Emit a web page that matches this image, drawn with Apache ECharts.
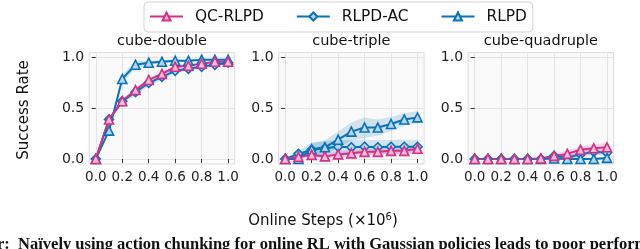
<!DOCTYPE html>
<html>
<head>
<meta charset="utf-8">
<script src="https://cdn.jsdelivr.net/npm/echarts@6/dist/echarts.min.js"></script>
<style>html,body{margin:0;padding:0;background:#fff}#c{width:640px;height:249px}</style>
</head>
<body>
<div id="c"></div>
<script>
const steps = [0, 0.1, 0.2, 0.3, 0.4, 0.5, 0.6, 0.7, 0.8, 0.9, 1.0];
const xTicks = [0, 0.2, 0.4, 0.6, 0.8, 1.0];
const yTicks = [0, 0.5, 1.0];
const panelTitles = ['cube-double', 'cube-triple', 'cube-quadruple'];
const methods = ['QC-RLPD', 'RLPD-AC', 'RLPD'];

// cube-double
const qcDouble   = [0, 0.39, 0.57, 0.68, 0.78, 0.84, 0.91, 0.92, 0.94, 0.96, 0.96];
const acDouble   = [0, 0.39, 0.57, 0.66, 0.75, 0.81, 0.87, 0.89, 0.91, 0.93, 0.95];
const rlpdDouble = [0, 0.28, 0.79, 0.93, 0.95, 0.96, 0.97, 0.97, 0.98, 0.98, 0.98];
const qcDoubleErr   = [0, 0.02, 0.02, 0.02, 0.02, 0.02, 0.02, 0.02, 0.01, 0.01, 0.01];
const acDoubleErr   = [0, 0.02, 0.03, 0.03, 0.03, 0.03, 0.02, 0.02, 0.02, 0.02, 0.02];
const rlpdDoubleErr = [0, 0.03, 0.04, 0.04, 0.02, 0.02, 0.01, 0.01, 0.01, 0.01, 0.01];

// cube-triple
const qcTriple   = [0, 0.02, 0.04, 0.025, 0.045, 0.055, 0.07, 0.07, 0.08, 0.08, 0.10];
const acTriple   = [0, 0.05, 0.09, 0.105, 0.12, 0.115, 0.12, 0.115, 0.12, 0.12, 0.12];
const rlpdTriple = [0, 0.0, 0.095, 0.115, 0.19, 0.27, 0.31, 0.31, 0.345, 0.39, 0.41];
const qcTripleErr   = [0, 0.01, 0.02, 0.02, 0.03, 0.03, 0.03, 0.03, 0.03, 0.03, 0.03];
const acTripleErr   = [0, 0.03, 0.07, 0.07, 0.07, 0.07, 0.07, 0.07, 0.07, 0.07, 0.07];
const rlpdTripleErr = [0, 0.01, 0.06, 0.07, 0.08, 0.09, 0.1, 0.08, 0.07, 0.06, 0.06];

// cube-quadruple
const qcQuad   = [0, 0, 0, 0, 0, 0.005, 0.03, 0.05, 0.09, 0.105, 0.115];
const acQuad   = [0, 0, 0, 0, 0, 0, 0.03, 0.015, 0.045, 0.07, 0.06];
const rlpdQuad = [0, 0, 0, 0, 0, 0, 0.005, 0.0, 0.0, 0.0, 0.01];
const qcQuadErr   = [0, 0, 0, 0, 0, 0.01, 0.02, 0.03, 0.035, 0.04, 0.04];
const acQuadErr   = [0, 0, 0, 0, 0, 0, 0.02, 0.02, 0.03, 0.03, 0.03];
const rlpdQuadErr = [0, 0, 0, 0, 0, 0, 0.01, 0.01, 0.01, 0.01, 0.01];

const panelData = [
  {QC: qcDouble, AC: acDouble, R: rlpdDouble, QCe: qcDoubleErr, ACe: acDoubleErr, Re: rlpdDoubleErr},
  {QC: qcTriple, AC: acTriple, R: rlpdTriple, QCe: qcTripleErr, ACe: acTripleErr, Re: rlpdTripleErr},
  {QC: qcQuad, AC: acQuad, R: rlpdQuad, QCe: qcQuadErr, ACe: acQuadErr, Re: rlpdQuadErr}
];

const PINK = '#d62f86', BLUE = '#0a72b8';
const styles = {
  'QC-RLPD': {color: PINK, fill: '#f2bcd8', band: 'rgba(214,47,134,0.18)', symbol: 'triangle', size: 9},
  'RLPD-AC': {color: BLUE, fill: '#b5d6ee', band: 'rgba(10,114,184,0.18)', symbol: 'diamond', size: 9},
  'RLPD':    {color: BLUE, fill: '#b5d6ee', band: 'rgba(10,114,184,0.18)', symbol: 'triangle', size: 9}
};

const lefts = [89.2, 278.6, 468.1];
const FONT = 'DejaVu Sans';
const grids = [], xAxes = [], yAxes = [], series = [];

lefts.forEach((l, i) => {
  grids.push({left: l, top: 52.6, width: 145.5, height: 111.4, show: true,
    backgroundColor: '#fafafb', borderColor: '#dcdcdc', borderWidth: 1});
  xAxes.push({type: 'value', gridIndex: i, min: -0.05, max: 1.05,
    axisLine: {show: false},
    axisTick: {show: true, customValues: xTicks, length: 4, lineStyle: {color: '#333', width: 1}},
    axisLabel: {customValues: xTicks, formatter: v => v.toFixed(1), color: '#222', fontFamily: FONT, fontSize: 13.5, margin: 6},
    splitLine: {show: true, lineStyle: {color: '#e4e4e4', width: 1}}
  });
  yAxes.push({type: 'value', gridIndex: i, min: -0.05, max: 1.05,
    axisLine: {show: false},
    axisTick: {show: true, customValues: yTicks, length: 4, lineStyle: {color: '#333', width: 1}},
    axisLabel: {customValues: yTicks, formatter: v => v.toFixed(1), color: '#222', fontFamily: FONT, fontSize: 14, margin: 5},
    splitLine: {show: true, lineStyle: {color: '#e4e4e4', width: 1}}
  });

  const d = panelData[i];
  const order = [['RLPD-AC', d.AC, d.ACe], ['RLPD', d.R, d.Re], ['QC-RLPD', d.QC, d.QCe]];
  order.forEach(([name, mean, err]) => {
    const st = styles[name];
    const bandData = steps.map((x, k) => [x, mean[k] - err[k], mean[k] + err[k]]);
    series.push({
      type: 'custom', xAxisIndex: i, yAxisIndex: i, silent: true, z: 1,
      data: bandData,
      renderItem: (params, api) => {
        if (params.dataIndex !== 0) return null;
        const up = bandData.map(p => api.coord([p[0], p[2]]));
        const lo = bandData.map(p => api.coord([p[0], p[1]])).reverse();
        return {type: 'polygon', shape: {points: up.concat(lo)}, style: {fill: st.band, stroke: null}};
      }
    });
  });
  order.forEach(([name, mean]) => {
    const st = styles[name];
    series.push({
      type: 'line', name: name, xAxisIndex: i, yAxisIndex: i, z: 3,
      data: steps.map((x, k) => [x, mean[k]]),
      symbol: st.symbol, symbolSize: st.size, showAllSymbol: true,
      lineStyle: {color: st.color, width: 2},
      itemStyle: {color: st.fill, borderColor: st.color, borderWidth: 1.6},
      emphasis: {disabled: true}, animation: false
    });
  });
});

const graphics = [];
panelTitles.forEach((t, i) => {
  graphics.push({type: 'text', x: lefts[i] + 72.75, y: 41, style: {text: t, font: '14.5px "DejaVu Sans"', fill: '#111', textAlign: 'center', textVerticalAlign: 'middle'}});
});
graphics.push({type: 'text', x: 24, y: 110, rotation: Math.PI / 2,
  style: {text: 'Success Rate', font: '15px "DejaVu Sans"', fill: '#111', textAlign: 'center', textVerticalAlign: 'middle'}});
graphics.push({type: 'text', x: 323, y: 221,
  style: {rich: {a: {font: '15px "DejaVu Sans"', fill: '#111'}, s: {font: '10px "DejaVu Sans"', fill: '#111', verticalAlign: 'top', padding: [0,0,8,0]}},
    text: '{a|Online Steps (×10}{s|6}{a|)}', textAlign: 'center', textVerticalAlign: 'middle'}});
graphics.push({type: 'text', x: -3, y: 236,
  style: {text: 'r:  Naïvely using action chunking for online RL with Gaussian policies leads to poor performance', font: 'bold 16.5px "Liberation Serif"', fill: '#111', textVerticalAlign: 'top'}});

const chart = echarts.init(document.getElementById('c'), null, {renderer: 'canvas'});
chart.setOption({
  animation: false,
  backgroundColor: '#fff',
  grid: grids, xAxis: xAxes, yAxis: yAxes, series: series,
  legend: {
    data: methods, left: 144, top: 2, padding: [7, 6, 8, 5],
    itemWidth: 33, itemHeight: 10, itemGap: 32,
    borderColor: '#d2d2d2', borderWidth: 1, borderRadius: 4,
    textStyle: {fontFamily: FONT, fontSize: 15.4, color: '#111', padding: [0, 0, 0, 7]}
  },
  graphic: graphics
});
</script>
</body>
</html>
